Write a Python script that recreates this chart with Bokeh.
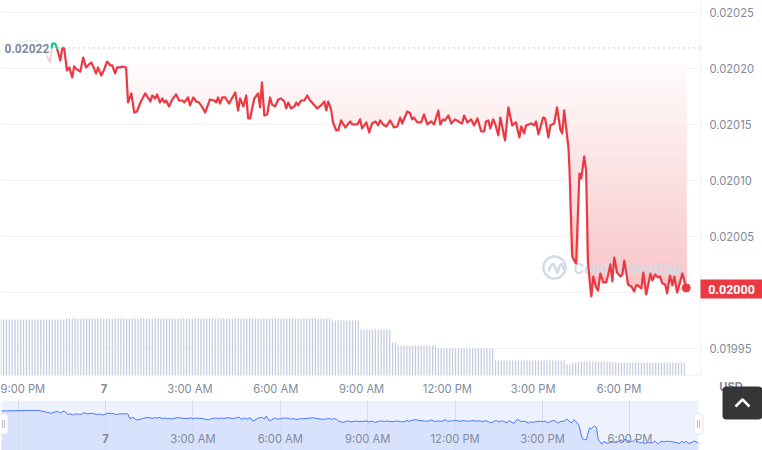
from bokeh.plotting import figure
from bokeh.layouts import column
from bokeh.models import Range1d, FixedTicker, Label, Grid
from bokeh.core.properties import value
from bokeh.embed import file_html
from bokeh.resources import INLINE
import numpy as np

# times: minutes from midnight of the 7th; prices: USD x 1e-5
pre_minutes = [-214, -190, -165, -140, -128, -120, -113, -110]
pre_prices = [2022.1, 2022.2, 2022.4, 2022.5, 2021.8, 2021.1, 2020.53, 2021.79]
up_minutes = [-110, -109, -103, -99]
up_prices = [2021.79, 2022.23, 2022.23, 2021.79]
minutes = [-99, -92, -88, -84, -78, -73, -67, -63, -57, -50, -44, -38, -34, -27, -21, -17, -13, -6, 0, 6,
           13, 17, 23, 27, 34, 38, 46, 50, 57, 63, 69, 76, 86, 97, 101, 107, 111, 117, 122, 126,
           130, 136, 143, 151, 157, 164, 168, 176, 180, 187, 193, 199, 206, 212, 222, 231, 235, 239, 243, 248,
           254, 262, 275, 281, 285, 292, 298, 302, 306, 315, 323, 327, 331, 336, 342, 348, 352, 359, 365, 371,
           378, 382, 386, 392, 399, 403, 407, 413, 420, 426, 432, 436, 447, 455, 462, 466, 470, 476, 480, 487,
           491, 497, 506, 516, 520, 531, 537, 541, 550, 556, 562, 569, 575, 579, 585, 592, 600, 608, 615, 621,
           625, 636, 642, 646, 650, 657, 665, 671, 678, 686, 692, 701, 705, 711, 715, 722, 728, 736, 747, 751,
           755, 762, 770, 776, 783, 791, 797, 801, 806, 810, 816, 820, 827, 831, 841, 848, 856, 864, 871, 875,
           881, 885, 890, 896, 902, 906, 911, 921, 925, 932, 936, 944, 950, 957, 961, 965, 974, 976, 982, 986,
           990, 997, 1001, 1007, 1011, 1015, 1022, 1026, 1032, 1036, 1041, 1047, 1053, 1057, 1062, 1066, 1070, 1076, 1083, 1087,
           1091, 1095, 1099, 1106, 1112, 1116, 1120, 1127, 1131, 1137, 1141, 1146, 1150, 1156, 1162, 1166, 1171, 1177, 1181, 1187,
           1192, 1196, 1202, 1213, 1221]
prices = [2021.79, 2020.71, 2021.79, 2021.79, 2019.82, 2020.09, 2019.20, 2020.18, 2019.91, 2019.73, 2020.98, 2020.09, 2020.27, 2020.53, 2020.00, 2019.55, 2020.09, 2019.37, 2019.91, 2020.62,
          2020.27, 2020.27, 2019.55, 2020.09, 2020.09, 2020.18, 2020.09, 2016.96, 2017.77, 2016.07, 2016.16, 2016.96, 2017.77, 2017.05, 2017.59, 2017.32, 2017.68, 2016.96, 2017.32, 2016.96,
          2017.14, 2016.61, 2017.23, 2017.68, 2017.14, 2017.14, 2016.96, 2017.41, 2016.70, 2017.41, 2017.05, 2016.96, 2016.52, 2016.07, 2017.23, 2017.14, 2016.96, 2017.41, 2016.87, 2017.41,
          2017.41, 2016.87, 2017.86, 2016.25, 2017.32, 2016.61, 2017.59, 2015.53, 2015.53, 2017.32, 2017.77, 2016.52, 2018.75, 2015.80, 2015.89, 2017.41, 2016.78, 2016.61, 2017.23, 2017.32,
          2017.05, 2016.43, 2016.96, 2016.43, 2016.61, 2016.96, 2016.70, 2017.14, 2017.14, 2017.59, 2017.14, 2016.96, 2016.43, 2016.70, 2017.05, 2016.25, 2017.05, 2016.34, 2015.18, 2014.46,
          2014.46, 2015.36, 2014.73, 2015.27, 2015.00, 2015.00, 2015.45, 2014.64, 2015.18, 2014.28, 2015.09, 2015.27, 2014.91, 2015.36, 2015.00, 2014.82, 2015.36, 2014.73, 2014.82, 2015.62,
          2015.09, 2016.16, 2015.98, 2015.45, 2015.62, 2015.18, 2015.18, 2015.89, 2015.00, 2015.27, 2015.00, 2016.25, 2015.00, 2015.45, 2015.36, 2015.80, 2015.09, 2015.45, 2015.18, 2015.09,
          2015.80, 2015.18, 2015.45, 2014.91, 2015.53, 2014.37, 2014.37, 2015.27, 2015.36, 2014.64, 2015.45, 2015.09, 2014.02, 2015.62, 2013.57, 2016.52, 2014.91, 2015.18, 2013.84, 2014.82,
          2014.20, 2014.91, 2015.00, 2015.09, 2014.91, 2015.27, 2014.11, 2015.62, 2015.53, 2013.84, 2014.91, 2015.09, 2016.52, 2014.55, 2014.20, 2016.25, 2012.94, 2011.16, 2003.21, 2002.85,
          2002.59, 2010.62, 2010.18, 2012.14, 2010.89, 2002.59, 1999.64, 2001.42, 2000.44, 2000.17, 2001.69, 2000.89, 2000.89, 2001.51, 2002.50, 2000.98, 2003.12, 2001.78, 2001.42, 2001.60,
          2002.85, 2001.87, 2000.71, 2000.53, 2000.09, 2000.62, 2000.62, 2000.35, 2001.78, 1999.82, 2000.62, 2001.69, 2001.07, 2001.60, 2001.34, 2001.42, 2000.80, 2000.71, 1999.91, 2001.51,
          2000.62, 2001.42, 2000.00, 2001.69, 2000.40]

# volume, in millions, as runs of equal bars
vol_levels = [28.0, 28.5, 27.5, 23.0, 16.5, 15.0, 13.5, 7.5, 5.5, 6.5, 7.0, 6.5]
vol_counts = [23, 93, 10, 11, 2, 14, 20, 25, 2, 2, 12, 26]

open_price = 2021.83
last_price_label = "0.02000"
open_price_label = "0.02022"
y_ticks = [1995, 2000, 2005, 2010, 2015, 2020, 2025]
y_tick_labels = ["0.01995", "0.02000", "0.02005", "0.02010", "0.02015", "0.02020", "0.02025"]
x_ticks = [-180, 0, 180, 360, 540, 720, 900, 1080]
x_tick_labels = ["9:00 PM", "7", "3:00 AM", "6:00 AM", "9:00 AM", "12:00 PM", "3:00 PM", "6:00 PM"]

RED, GREEN, GREY, PALE = "#ea3943", "#16c784", "#808a9d", "#eff2f5"
FONT = "Inter"
TICK_SIZE = "11.2px"

X0, X1, Y0, Y1 = -217.5, 1251.0, 2026.07, 1992.58
def px_x(px):
    return X0 + (X1 - X0) * px / 700.0
def px_y(py):
    return Y0 + (Y1 - Y0) * py / 375.0

p = figure(frame_width=700, frame_height=375, output_backend="svg", toolbar_location=None,
           x_range=Range1d(X0, X1), y_range=Range1d(Y1, Y0), y_axis_location="right",
           min_border_left=0, min_border_right=62, min_border_top=0, min_border_bottom=75,
           outline_line_color=None, background_fill_color="white", border_fill_color="white")
p.extra_y_ranges = {"vol": Range1d(0, 187.5)}

p.xgrid.visible = False
p.ygrid.ticker = FixedTicker(ticks=y_ticks)
p.ygrid.grid_line_color = "#f1f3f6"
p.ygrid.level = "underlay"

ax = p.yaxis[0]
ax.ticker = FixedTicker(ticks=y_ticks)
ax.major_label_overrides = dict(zip(y_ticks, y_tick_labels))
ax.major_tick_line_color = None
ax.minor_tick_line_color = None
ax.axis_line_color = PALE
ax.major_label_standoff = 3
ax.major_label_text_font = FONT
ax.major_label_text_font_size = TICK_SIZE
ax.major_label_text_color = GREY

bx = p.xaxis[0]
bx.ticker = FixedTicker(ticks=x_ticks)
bx.major_label_overrides = {t: ("" if s in ("9:00 PM", "7") else s) for t, s in zip(x_ticks, x_tick_labels)}
bx.major_tick_line_color = PALE
bx.major_tick_in = 0
bx.major_tick_out = 3
bx.minor_tick_line_color = None
bx.axis_line_color = PALE
bx.major_label_standoff = 3
bx.major_label_text_font = FONT
bx.major_label_text_font_size = TICK_SIZE
bx.major_label_text_color = GREY

# gradient below the opening price, as nested opaque bands (lightest first)
t_all = np.array(minutes)
v_all = np.array(prices)
edges = np.linspace(2020.4, 1999.0, 45)
for k, b in enumerate(edges):
    a = 0.02 + 0.295 * k / (len(edges) - 1)
    rgb = tuple(int(round(255 + (c - 255) * a)) for c in (0xea, 0x39, 0x43))
    p.varea(x=t_all, y1=np.minimum(v_all, b), y2=b, fill_color="#%02x%02x%02x" % rgb)

# volume bars
vol = np.repeat(vol_levels, vol_counts)
vol_t = -217 + 6 * np.arange(len(vol))
p.vbar(x=vol_t, top=vol, bottom=0, width=2.6, y_range_name="vol", fill_color="#c3cbdd", line_color=None)

# watermark
theta = np.linspace(0, 2 * np.pi, 60)
p.line(px_x(554 + 11 * np.cos(theta)), px_y(267 + 11 * np.sin(theta)), line_color="#d3dbe8", line_width=2.5)
p.line(px_x(np.array([548, 550, 553, 555, 557, 559, 561, 563, 566])),
       px_y(np.array([271, 266, 263, 268, 273, 266, 263, 268, 270])), line_color="#d3dbe8", line_width=2.5)
p.text(x=[px_x(573)], y=[px_y(268)], text=["CoinMarketCap"], text_font=value(FONT), text_font_size="14.2px",
       text_font_style="bold", text_color="#d3dbe8", text_baseline="middle")

# opening price dotted line
p.line([px_x(58), px_x(700)], [open_price, open_price], line_color="#8a93a3", line_dash="1 4", line_width=1)

# price line
p.line(pre_minutes[:6], pre_prices[:6], line_color=GREEN, line_width=2, line_alpha=0.12)
p.line(pre_minutes[5:], pre_prices[5:], line_color=RED, line_width=2, line_alpha=0.25)
p.line(minutes, prices, line_color=RED, line_width=2.2, line_join="round")
p.line(up_minutes, up_prices, line_color=GREEN, line_width=2.2)
p.line(minutes[2:4], [open_price + 0.05, open_price + 0.05], line_color=GREEN, line_width=1.5)
p.scatter(minutes[-1:], prices[-1:], size=8, fill_color=RED, line_color=RED)
p.add_layout(Label(x=px_x(4), y=px_y(48), text=open_price_label, text_font="Roboto", text_font_size="12px",
                   text_font_style="bold", text_color=GREY, text_baseline="middle",
                   background_fill_color="white", background_fill_alpha=0.7))

# navigator
NW = 706
NX0 = -105 * 180 / 87.4
NX1 = (NW - 105) * 180 / 87.4
NY0, NY1 = 2029.17, 1995.3
nav = figure(frame_width=NW, frame_height=50, output_backend="svg", toolbar_location=None,
             x_range=Range1d(NX0, NX1), y_range=Range1d(NY1, NY0),
             x_axis_location=None, y_axis_location=None, min_border=0,
             outline_line_color=None, background_fill_color="white", border_fill_color="white")
nav.grid.visible = False
nav_x = lambda px: NX0 + (NX1 - NX0) * px / NW
nav_y = lambda py: NY0 + (NY1 - NY0) * py / 50.0
nav.quad(left=[nav_x(1)], right=[nav_x(698)], bottom=[NY1], top=[NY0], fill_color="#eef2fe", line_color=None, level="image")
nt = np.array(pre_minutes[:-1] + minutes)
nv = np.array(pre_prices[:-1] + prices)
nav.varea(x=nt, y1=NY1, y2=nv, fill_color="#d9e2fc", level="image")
nav.add_layout(Grid(dimension=0, ticker=FixedTicker(ticks=x_ticks), grid_line_color="#d5dcf2", level="underlay"))
nav.line(nt, nv, line_color="#4878ff", line_width=1)
nav.text(x=x_ticks[1:], y=[nav_y(38)] * 7, text=x_tick_labels[1:], text_font=value(FONT), text_font_size=TICK_SIZE,
         text_color=GREY, text_align="center", text_baseline="middle",
         text_font_style=["bold"] + ["normal"] * 6)
nav.rect(x=[nav_x(3), nav_x(698)], y=[nav_y(23.5)] * 2, width=9, height=20, width_units="screen", height_units="screen",
         fill_color="white", line_color="#e3e7f0", border_radius=3)
nav.segment(x0=[nav_x(v) for v in (2, 4, 697, 699)], x1=[nav_x(v) for v in (2, 4, 697, 699)],
            y0=[nav_y(19.5)] * 4, y1=[nav_y(27.5)] * 4, line_color="#b5bccb", line_width=1)
nav.margin = (-50, 0, 0, 0)

# transparent layer in page pixels, for what sits outside the plot frames
top = figure(frame_width=762, frame_height=450, output_backend="svg", toolbar_location=None,
             x_range=Range1d(0, 762), y_range=Range1d(450, 0),
             x_axis_location=None, y_axis_location=None, min_border=0, outline_line_color=None,
             background_fill_alpha=0, border_fill_alpha=0)
top.grid.visible = False
top.margin = (-450, 0, 0, 0)
def txt(x, y, s, font=FONT, size=TICK_SIZE, **kw):
    top.text(x=[x], y=[y], text=[s], text_font=value(font), text_font_size=size,
             text_baseline="middle", **kw)
txt(0, 388, x_tick_labels[0], text_color=GREY)
txt(103.5, 388, x_tick_labels[1], text_color=GREY, text_align="center", text_font_style="bold")
top.quad(left=[700], right=[762], top=[279], bottom=[298], fill_color=RED, line_color=None)
txt(731, 288.5, last_price_label, font="Roboto", size="12.5px", text_color="white", text_align="center", text_font_style="bold")
txt(730.5, 386, "USD", text_color=GREY, text_align="center", text_font_style="bold")
top.quad(left=[722], right=[762], top=[386], bottom=[419], fill_color="#363636", line_color=None, border_radius=4)
top.line([735, 742, 749], [406, 399, 406], line_color="white", line_width=2.5)

root = column(p, nav, top, spacing=0, styles={"position": "absolute", "left": "0px", "top": "0px"})
open("out.html", "w").write(file_html(root, INLINE))
